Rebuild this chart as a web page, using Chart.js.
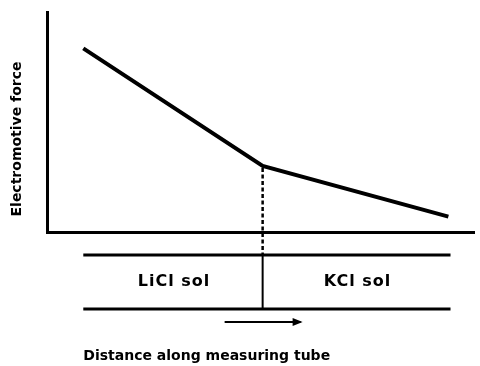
<!DOCTYPE html>
<html>
<head>
<meta charset="utf-8">
<script src="https://cdn.jsdelivr.net/npm/chart.js@4/dist/chart.umd.min.js"></script>
<style>
  html, body { margin: 0; padding: 0; background: #fff; }
  #wrap { width: 480px; height: 366px; }
</style>
</head>
<body>
<div id="wrap"><canvas id="c" width="480" height="366"></canvas></div>
<script>
// Distance along the tube (arbitrary units) and the e.m.f. measured there
const distance = [8.5, 50.5, 94];
const emf = [83.5, 30, 7];

// Tube drawn under the plot: its two ends and the liquid junction
const tubeStart = 8.5;
const tubeEnd = 94.5;
const junction = 50.5;
const solutions = ['LiCl sol', 'KCl sol'];

const yTitle = 'Electromotive force';
const xTitle = 'Distance along measuring tube';

const FONT = '"DejaVu Sans", sans-serif';

const tubePlugin = {
  id: 'tube',
  afterDraw(chart) {
    const { ctx, chartArea, scales } = chart;
    const x = scales.x, y = scales.y;
    const top = chartArea.bottom + 23;
    const bot = chartArea.bottom + 77;
    const xs = x.getPixelForValue(tubeStart);
    const xe = x.getPixelForValue(tubeEnd);
    const xj = x.getPixelForValue(junction);
    const kinkY = y.getPixelForValue(emf[1]);

    ctx.save();
    ctx.strokeStyle = '#000';
    ctx.fillStyle = '#000';

    // dashed drop from the kink to the tube
    ctx.lineWidth = 2.5;
    ctx.setLineDash([4, 2.5]);
    ctx.beginPath();
    ctx.moveTo(xj, kinkY + 2);
    ctx.lineTo(xj, top);
    ctx.stroke();
    ctx.setLineDash([]);

    // tube walls
    ctx.lineWidth = 3;
    ctx.beginPath();
    ctx.moveTo(xs, top); ctx.lineTo(xe, top);
    ctx.moveTo(xs, bot); ctx.lineTo(xe, bot);
    ctx.stroke();

    // junction between the two solutions
    ctx.lineWidth = 2;
    ctx.beginPath();
    ctx.moveTo(xj, top); ctx.lineTo(xj, bot);
    ctx.stroke();

    // solution names
    ctx.font = 'bold 16px ' + FONT;
    ctx.letterSpacing = '1px';
    ctx.textAlign = 'center';
    ctx.textBaseline = 'middle';
    ctx.fillText(solutions[0], (xs + xj) / 2 + 1, (top + bot) / 2);
    ctx.fillText(solutions[1], (xj + xe) / 2 + 1, (top + bot) / 2);

    // direction arrow
    const ay = bot + 13;
    const a0 = xj - 38, a1 = xj + 40;
    ctx.lineWidth = 2;
    ctx.beginPath();
    ctx.moveTo(a0, ay); ctx.lineTo(a1 - 2, ay);
    ctx.stroke();
    ctx.beginPath();
    ctx.moveTo(a1, ay);
    ctx.lineTo(a1 - 10, ay - 4);
    ctx.lineTo(a1 - 10, ay + 4);
    ctx.closePath();
    ctx.fill();

    // axis titles
    ctx.font = 'bold 14px ' + FONT;
    ctx.letterSpacing = '0px';
    ctx.textAlign = 'left';
    ctx.fillText(xTitle, xs, bot + 47);

    ctx.save();
    ctx.translate(17, 139);
    ctx.rotate(-Math.PI / 2);
    ctx.textAlign = 'center';
    ctx.fillText(yTitle, 0, 0);
    ctx.restore();

    ctx.restore();
  }
};

new Chart(document.getElementById('c'), {
  type: 'line',
  data: {
    datasets: [{
      data: distance.map((d, i) => ({ x: d, y: emf[i] })),
      borderColor: '#000',
      borderWidth: 4,
      pointRadius: 0,
      tension: 0,
      fill: false
    }]
  },
  options: {
    responsive: false,
    animation: false,
    events: [],
    layout: { padding: { left: 47, top: 12, right: 6, bottom: 134 } },
    plugins: { legend: { display: false }, tooltip: { enabled: false } },
    scales: {
      x: {
        type: 'linear', min: 0, max: 100,
        grid: { display: false, drawTicks: false },
        ticks: { display: false },
        border: { display: true, color: '#000', width: 3 }
      },
      y: {
        type: 'linear', min: 0, max: 100,
        grid: { display: false, drawTicks: false },
        ticks: { display: false },
        border: { display: true, color: '#000', width: 3 }
      }
    }
  },
  plugins: [tubePlugin]
});
</script>
</body>
</html>
